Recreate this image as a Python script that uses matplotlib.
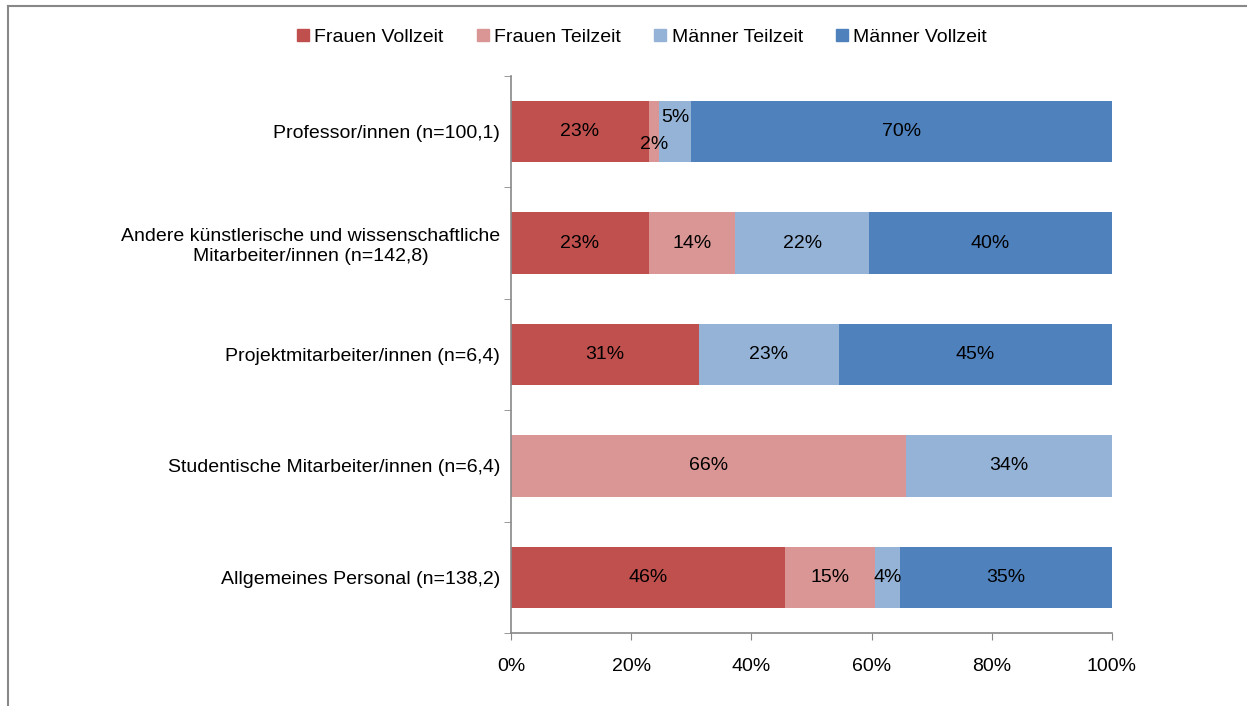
import numpy as np
import matplotlib.pyplot as plt
from matplotlib.lines import Line2D

plt.rcParams['font.family'] = ['Liberation Sans', 'DejaVu Sans']

categories = ['Professor/innen (n=100,1)',
              'Andere künstlerische und wissenschaftliche\nMitarbeiter/innen (n=142,8)',
              'Projektmitarbeiter/innen (n=6,4)',
              'Studentische Mitarbeiter/innen (n=6,4)',
              'Allgemeines Personal (n=138,2)']
series = ['Frauen Vollzeit', 'Frauen Teilzeit', 'Männer Teilzeit', 'Männer Vollzeit']
frauen_vz = [22.9, 22.9, 31.2, 0.0, 45.6]
frauen_tz = [1.7, 14.4, 0.0, 65.8, 15.0]
maenner_tz = [5.4, 22.3, 23.4, 34.2, 4.2]
maenner_vz = [70.0, 40.4, 45.4, 0.0, 35.2]
colors = ['#C0504D', '#D99694', '#95B3D7', '#4F81BD']

fs = 14

fig = plt.figure(figsize=(12.47, 7.06), dpi=100)
ax = fig.add_axes([511 / 1247, 73 / 706, 601 / 1247, 557 / 706])

y = np.arange(len(categories))
left = np.zeros(len(categories))
for vals, col, name in zip([frauen_vz, frauen_tz, maenner_tz, maenner_vz], colors, series):
    vals = np.array(vals)
    ax.barh(y, vals, left=left, height=0.55, color=col, label=name)
    for i, v in enumerate(vals):
        if v <= 0:
            continue
        dy = 0
        if i == 0 and name == 'Frauen Teilzeit':
            dy = -9
        if i == 0 and name == 'Männer Teilzeit':
            dy = 10
        ax.annotate(f'{v:.0f}%', (left[i] + v / 2, y[i]), xytext=(0, dy),
                    textcoords='offset points', ha='center', va='center',
                    fontsize=fs, color='black')
    left += vals

ax.set_xlim(0, 100)
ax.set_ylim(len(categories) - 0.5, -0.5)
ax.set_xticks(np.arange(0, 101, 20))
ax.set_xticklabels([f'{t}%' for t in range(0, 101, 20)], fontsize=fs)
ax.set_yticks(y)
ax.set_yticklabels(categories, fontsize=fs, ha='right', multialignment='center')
ax.tick_params(axis='y', length=0, pad=8)
ax.tick_params(axis='x', length=5, color='#888888', pad=13)
ax.set_yticks(np.arange(-0.5, len(categories)), minor=True)
ax.tick_params(axis='y', which='minor', length=5, color='#888888')
for s in ['top', 'right']:
    ax.spines[s].set_visible(False)
for s in ['left', 'bottom']:
    ax.spines[s].set_color('#888888')
    ax.spines[s].set_linewidth(1.2)

handles = [Line2D([0], [0], marker='s', color='none', markerfacecolor=c,
                  markeredgecolor=c, markersize=9) for c in colors]
fig.legend(handles, series, loc='center', bbox_to_anchor=(641 / 1247, 1 - 37 / 706),
           ncol=4, frameon=False, fontsize=fs, handlelength=0.8, handletextpad=0.2,
           columnspacing=1.6)

# outer chart frame (cut off at the right and bottom)
fig.add_artist(Line2D([8 / 1247, 1], [1 - 6 / 706, 1 - 6 / 706], color='#888888', lw=1.5))
fig.add_artist(Line2D([8 / 1247, 8 / 1247], [0, 1 - 6 / 706], color='#888888', lw=1.5))

fig.savefig('out.png', dpi=100)
